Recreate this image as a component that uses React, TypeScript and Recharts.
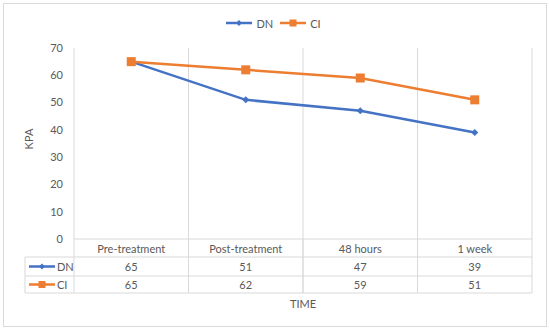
import { CartesianGrid, Label, Legend, Line, LineChart, XAxis, YAxis } from 'recharts';

const categories = ['Pre-treatment', 'Post-treatment', '48 hours', '1 week'];
const dnValues = [65, 51, 47, 39];
const ciValues = [65, 62, 59, 51];
const yTicks = [0, 10, 20, 30, 40, 50, 60, 70];

const BLUE = '#4472C4';
const ORANGE = '#ED7D31';
const GRID = '#D9D9D9';
const TEXT = '#595959';
const FONT = 'Lato, "Open Sans", sans-serif';

const series = [
  { key: 'DN', color: BLUE, values: dnValues, marker: 'diamond' },
  { key: 'CI', color: ORANGE, values: ciValues, marker: 'square' },
];

const data = categories.map((name, i) => ({ name, DN: dnValues[i], CI: ciValues[i] }));

// layout
const W = 550;
const H = 331;
const PLOT_LEFT = 74;
const PLOT_RIGHT = 532;
const PLOT_BOTTOM = 239;
const X_AXIS_H = 75;
const COL_W = (PLOT_RIGHT - PLOT_LEFT) / categories.length;
const ROW_Y = [239, 257, 276, 293];
const TABLE_LEFT = 25;

const Marker = ({ type, cx, cy, color, r }: { type: string; cx: number; cy: number; color: string; r: number }) =>
  type === 'diamond' ? (
    <polygon points={`${cx},${cy - r} ${cx + r},${cy} ${cx},${cy + r} ${cx - r},${cy}`} fill={color} />
  ) : (
    <rect x={cx - r} y={cy - r} width={r * 2} height={r * 2} fill={color} />
  );

const Key = ({ x, y, s }: { x: number; y: number; s: (typeof series)[number] }) => (
  <g>
    <line x1={x} x2={x + 26} y1={y} y2={y} stroke={s.color} strokeWidth={2.5} />
    <Marker type={s.marker} cx={x + 13} cy={y} color={s.color} r={s.marker === 'diamond' ? 3 : 3.5} />
  </g>
);

const TableColumn = (props: any) => {
  const { x, payload } = props;
  const i = payload?.index ?? props.index;
  const left = x - COL_W / 2;
  const right = x + COL_W / 2;
  const txt = { fill: TEXT, fontSize: 11, fontFamily: FONT, dominantBaseline: 'central' as const };
  return (
    <g>
      {ROW_Y.map((y) => (
        <line key={y} x1={left} x2={right} y1={y} y2={y} stroke={GRID} />
      ))}
      <line x1={left} x2={left} y1={ROW_Y[0]} y2={ROW_Y[3]} stroke={GRID} />
      <line x1={right} x2={right} y1={ROW_Y[0]} y2={ROW_Y[3]} stroke={GRID} />
      <text x={x} y={(ROW_Y[0] + ROW_Y[1]) / 2} textAnchor="middle" {...txt}>
        {payload.value}
      </text>
      {series.map((s, r) => (
        <text key={s.key} x={x} y={(ROW_Y[r + 1] + ROW_Y[r + 2]) / 2} textAnchor="middle" {...txt}>
          {s.values[i]}
        </text>
      ))}
      {i === 0 && (
        <g>
          {ROW_Y.slice(1).map((y) => (
            <line key={y} x1={TABLE_LEFT} x2={left} y1={y} y2={y} stroke={GRID} />
          ))}
          <line x1={TABLE_LEFT} x2={TABLE_LEFT} y1={ROW_Y[1]} y2={ROW_Y[3]} stroke={GRID} />
          {series.map((s, r) => {
            const cy = (ROW_Y[r + 1] + ROW_Y[r + 2]) / 2;
            return (
              <g key={s.key}>
                <Key x={TABLE_LEFT + 4} y={cy} s={s} />
                <text x={TABLE_LEFT + 32} y={cy} {...txt}>
                  {s.key}
                </text>
              </g>
            );
          })}
        </g>
      )}
    </g>
  );
};

const LegendContent = () => (
  <div
    style={{
      height: 35,
      display: 'flex',
      justifyContent: 'center',
      paddingLeft: 22,
      boxSizing: 'border-box',
      fontFamily: FONT,
      fontSize: 11,
      color: TEXT,
    }}
  >
    {series.map((s) => (
      <div key={s.key} style={{ display: 'flex', alignItems: 'center', height: 20, marginRight: 7 }}>
        <svg width={28} height={20}>
          <Key x={0} y={10} s={s} />
        </svg>
        <span style={{ marginLeft: 2 }}>{s.key}</span>
      </div>
    ))}
  </div>
);

const dotFor = (s: (typeof series)[number]) => (p: any) => (
  <Marker key={`${s.key}-${p.index}`} type={s.marker} cx={p.cx} cy={p.cy} color={s.color} r={s.marker === 'diamond' ? 3.5 : 4.5} />
);

export default function App() {
  return (
    <div style={{ position: 'absolute', left: 0, top: 0, width: W, height: H, background: '#fff' }}>
      <div
        style={{
          position: 'absolute',
          left: 3,
          top: 3,
          width: 544,
          height: 324,
          border: `1px solid ${GRID}`,
          boxSizing: 'border-box',
        }}
      />
      <div style={{ position: 'absolute', left: 0, top: 0 }}>
        <LineChart
          width={W}
          height={H}
          data={data}
          margin={{ top: 13, right: W - PLOT_RIGHT, left: 0, bottom: H - PLOT_BOTTOM - X_AXIS_H }}
        >
          <CartesianGrid
            horizontal={false}
            stroke={GRID}
            verticalCoordinatesGenerator={({ offset }: any) =>
              [0, 1, 2, 3, 4].map((k) => offset.left + (k * offset.width) / categories.length)
            }
          />
          <Legend verticalAlign="top" content={<LegendContent />} />
          <XAxis
            dataKey="name"
            padding={{ left: COL_W / 2, right: COL_W / 2 }}
            axisLine={false}
            tickLine={false}
            interval={0}
            height={X_AXIS_H}
            tick={(p: any) => <TableColumn {...p} />}
          >
            <Label value="TIME" position="insideBottom" offset={6} fill={TEXT} fontSize={11} fontFamily={FONT} />
          </XAxis>
          <YAxis
            width={PLOT_LEFT}
            domain={[0, 70]}
            ticks={yTicks}
            axisLine={false}
            tickLine={false}
            tickSize={0}
            tickMargin={11}
            tick={{ fill: TEXT, fontSize: 11, fontFamily: FONT }}
          >
            <Label
              content={() => (
                <text
                  x={28}
                  y={139}
                  transform="rotate(-90 28 139)"
                  textAnchor="middle"
                  dominantBaseline="central"
                  fill={TEXT}
                  fontSize={11}
                  fontFamily={FONT}
                >
                  KPA
                </text>
              )}
            />
          </YAxis>
          {series.map((s) => (
            <Line
              key={s.key}
              dataKey={s.key}
              stroke={s.color}
              strokeWidth={2.5}
              dot={dotFor(s)}
              activeDot={false}
              isAnimationActive={false}
            />
          ))}
        </LineChart>
      </div>
    </div>
  );
}
